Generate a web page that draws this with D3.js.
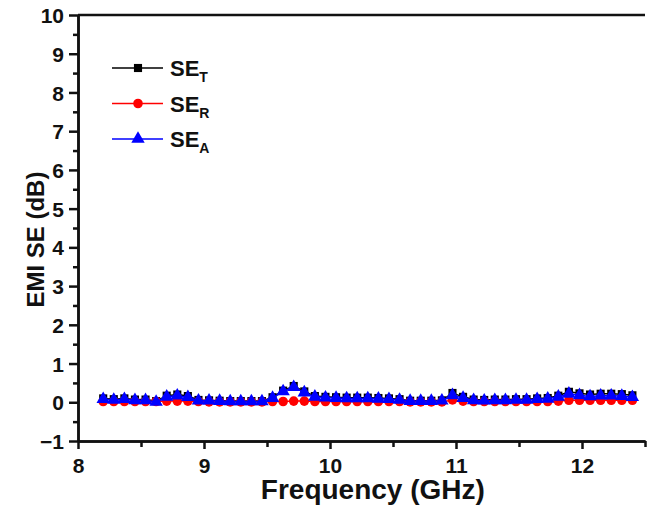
<!DOCTYPE html>
<html>
<head>
<meta charset="utf-8">
<script src="https://cdn.jsdelivr.net/npm/d3@7"></script>
<style>
  body { margin: 0; background: #fff; }
  svg text { font-family: Arial, "Liberation Sans", sans-serif; font-weight: bold; fill: #111; }
  .axis path, .axis line { stroke: #111; stroke-width: 2.5; }
  .axis text { font-size: 21px; }
</style>
</head>
<body>
<svg id="chart"></svg>
<script>
(function() {
  'use strict';

  // frequency (GHz), 51 points across the X band
  const freq = [
    8.200, 8.284, 8.368, 8.452, 8.536, 8.620, 8.704, 8.788, 8.872, 8.956,
    9.040, 9.124, 9.208, 9.292, 9.376, 9.460, 9.544, 9.628, 9.712, 9.796,
    9.880, 9.964, 10.048, 10.132, 10.216, 10.300, 10.384, 10.468, 10.552, 10.636,
    10.720, 10.804, 10.888, 10.972, 11.056, 11.140, 11.224, 11.308, 11.392, 11.476,
    11.560, 11.644, 11.728, 11.812, 11.896, 11.980, 12.064, 12.148, 12.232, 12.316,
    12.400
  ];

  const seT = [
    0.10, 0.08, 0.10, 0.07, 0.07, 0.03, 0.17, 0.20, 0.16, 0.06,
    0.05, 0.04, 0.03, 0.03, 0.03, 0.03, 0.13, 0.30, 0.42, 0.28,
    0.16, 0.14, 0.13, 0.12, 0.12, 0.12, 0.11, 0.10, 0.08, 0.04,
    0.04, 0.04, 0.05, 0.24, 0.14, 0.07, 0.06, 0.07, 0.07, 0.08,
    0.08, 0.10, 0.11, 0.17, 0.27, 0.23, 0.20, 0.22, 0.22, 0.21,
    0.18
  ];

  const seR = [
    0.02, 0.02, 0.02, 0.02, 0.02, 0.02, 0.03, 0.03, 0.03, 0.02,
    0.01, 0.01, 0.01, 0.01, 0.01, 0.01, 0.02, 0.02, 0.03, 0.03,
    0.02, 0.02, 0.02, 0.02, 0.02, 0.02, 0.02, 0.02, 0.02, 0.01,
    0.01, 0.01, 0.01, 0.06, 0.03, 0.02, 0.02, 0.02, 0.02, 0.02,
    0.02, 0.02, 0.02, 0.03, 0.05, 0.05, 0.05, 0.05, 0.05, 0.05,
    0.05
  ];

  const seA = [
    0.08, 0.06, 0.08, 0.05, 0.05, 0.01, 0.14, 0.17, 0.13, 0.04,
    0.04, 0.03, 0.02, 0.02, 0.02, 0.02, 0.11, 0.28, 0.39, 0.25,
    0.14, 0.12, 0.11, 0.10, 0.10, 0.10, 0.09, 0.08, 0.06, 0.03,
    0.03, 0.03, 0.04, 0.18, 0.11, 0.05, 0.04, 0.05, 0.05, 0.06,
    0.06, 0.08, 0.09, 0.14, 0.22, 0.18, 0.15, 0.17, 0.17, 0.16,
    0.13
  ];

  const xTicks = [8, 9, 10, 11, 12];
  const yTicks = [-1, 0, 1, 2, 3, 4, 5, 6, 7, 8, 9, 10];

  const series = [
    {name: 'T', values: seT, color: '#000000', symbol: d3.symbolSquare, size: 66},
    {name: 'R', values: seR, color: '#ff0000', symbol: d3.symbolCircle, size: 72},
    {name: 'A', values: seA, color: '#0000ff', symbol: d3.symbolTriangle, size: 78}
  ];

  const W = 649, H = 510;
  const margin = {left: 78, top: 15, right: 4, bottom: 69};
  const width = W - margin.left - margin.right;
  const height = H - margin.top - margin.bottom;

  const svg = d3.select('#chart').attr('width', W).attr('height', H);
  const g = svg.append('g').attr('transform', `translate(${margin.left},${margin.top})`);

  const x = d3.scaleLinear().domain([8, 12.5]).range([0, width]);
  const y = d3.scaleLinear().domain([-1, 10]).range([height, 0]);

  // minor ticks
  const xMinor = d3.range(8.5, 12.6, 1);
  const yMinor = d3.range(-0.5, 10, 1);

  g.append('g').attr('class', 'axis')
    .attr('transform', `translate(0,${height})`)
    .call(d3.axisBottom(x).tickValues(xMinor).tickSize(6).tickFormat('').tickSizeOuter(0));
  g.append('g').attr('class', 'axis')
    .attr('transform', `translate(0,${height})`)
    .call(d3.axisBottom(x).tickValues(xTicks).tickSize(8).tickPadding(4).tickFormat(d3.format('d')).tickSizeOuter(0))
    .selectAll('text').attr('dy', '0.95em');

  g.append('g').attr('class', 'axis')
    .call(d3.axisLeft(y).tickValues(yMinor).tickSize(5).tickFormat('').tickSizeOuter(0));
  g.append('g').attr('class', 'axis')
    .call(d3.axisLeft(y).tickValues(yTicks).tickSize(9).tickPadding(5).tickFormat(d3.format('d')).tickSizeOuter(0))
    .selectAll('text').attr('dy', '0.36em');

  // top frame line
  g.append('line')
    .attr('x1', 0).attr('x2', width)
    .attr('y1', 0).attr('y2', 0)
    .attr('stroke', '#111').attr('stroke-width', 2.5);

  const line = d3.line()
    .x((d, i) => x(freq[i]))
    .y(d => y(d));

  series.forEach(s => {
    g.append('path')
      .datum(s.values)
      .attr('fill', 'none')
      .attr('stroke', s.color)
      .attr('stroke-width', 1.5)
      .attr('d', line);
    g.append('g')
      .selectAll('path')
      .data(s.values)
      .join('path')
      .attr('transform', (d, i) => `translate(${x(freq[i])},${y(d)})`)
      .attr('d', d3.symbol().type(s.symbol).size(s.size))
      .attr('fill', s.color);
  });

  // legend
  const legend = svg.append('g').attr('transform', 'translate(112,68)');
  series.forEach((s, i) => {
    const row = legend.append('g').attr('transform', `translate(0,${i * 35.5})`);
    row.append('line')
      .attr('x1', 0).attr('x2', 51)
      .attr('stroke', s.color).attr('stroke-width', 1.5);
    row.append('path')
      .attr('transform', 'translate(26,0)')
      .attr('d', d3.symbol().type(s.symbol).size(s.size))
      .attr('fill', s.color);
    const t = row.append('text')
      .attr('x', 58).attr('y', 8)
      .style('font-size', '22px');
    t.append('tspan').text('SE');
    t.append('tspan').attr('dy', 6).style('font-size', '14px').text(s.name);
  });

  // axis titles
  svg.append('text')
    .attr('x', margin.left + x(10.34)).attr('y', 499)
    .attr('text-anchor', 'middle')
    .style('font-size', '28px')
    .text('Frequency (GHz)');

  svg.append('text')
    .attr('transform', `translate(44,${margin.top + y(4.2)}) rotate(-90)`)
    .attr('text-anchor', 'middle')
    .style('font-size', '24px')
    .text('EMI SE (dB)');
})();
</script>
</body>
</html>
